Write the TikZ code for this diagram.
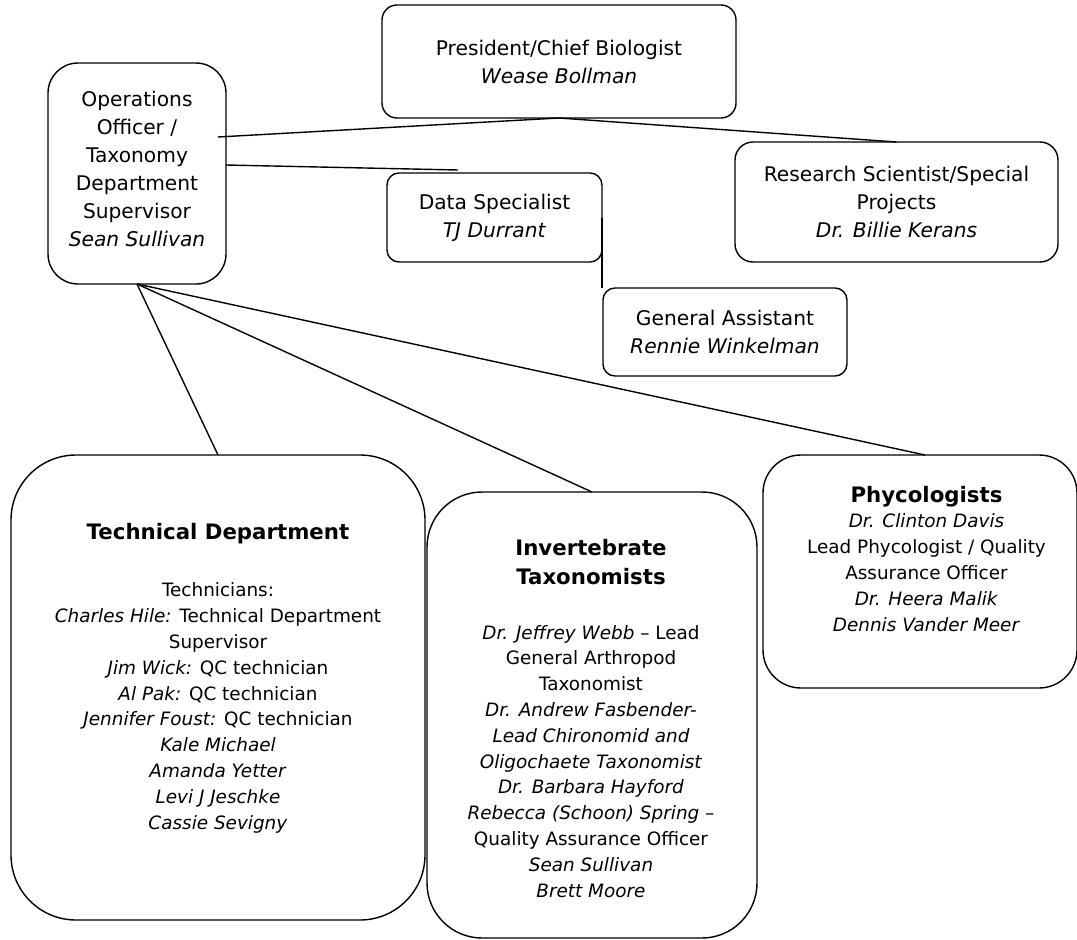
\documentclass[tikz,border=0pt]{standalone}
\usepackage{fontspec}
\setmainfont{DejaVu Sans}
\newcommand{\depthead}[1]{{\fontsize{21.3}{26}\selectfont\bfseries #1}}
\begin{document}
\begin{tikzpicture}[x=1pt,y=-1pt]
\tikzstyle{every node}+=[inner sep=0pt,outer sep=0pt]
\tikzstyle{rolebox}=[draw=black,line width=1.4pt,align=center,font=\fontsize{20.2}{28}\selectfont]
\tikzstyle{deptbox}=[draw=black,line width=1.4pt]
\tikzstyle{depttext}=[anchor=north,align=center,font=\fontsize{18.4}{25.8}\selectfont]
\tikzstyle{link}=[black,line width=1.4pt]
\clip (0,0) rectangle (1077,940);
\node [rolebox,rounded corners=30pt,minimum width=178pt,minimum height=221pt] (ops) at (137,173.5) {Operations\\Officer /\\Taxonomy\\Department\\Supervisor\\\textit{Sean Sullivan}\\[-18pt]};
\node [rolebox,rounded corners=15pt,minimum width=354pt,minimum height=113pt] (pres) at (559,61.5) {President/Chief Biologist\\\textit{Wease Bollman}};
\node [rolebox,rounded corners=12pt,minimum width=215pt,minimum height=89pt] (data) at (494.5,217.5) {Data Specialist\\\textit{TJ Durrant}};
\node [rolebox,rounded corners=18pt,minimum width=323pt,minimum height=120pt] (res) at (896.5,202) {Research Scientist/Special\\Projects\\\textit{Dr. Billie Kerans}};
\node [rolebox,rounded corners=12pt,minimum width=244pt,minimum height=88pt] (ga) at (725,332) {General Assistant\\\textit{Rennie Winkelman}};
\node [deptbox,rounded corners=65pt,minimum width=414pt,minimum height=465pt] (tech) at (218,687.5) {};
\node [deptbox,rounded corners=55pt,minimum width=330pt,minimum height=446pt] (inv) at (592,715) {};
\node [deptbox,rounded corners=38pt,minimum width=314pt,minimum height=233pt] (phy) at (920,571.5) {};
\node [depttext] (techtxt) at (218,523.8) {\depthead{Technical Department}\\[31.2pt]
Technicians:\\
\textit{Charles Hile:} Technical Department\\
Supervisor\\
\textit{Jim Wick:} QC technician\\
\textit{Al Pak:} QC technician\\
\textit{Jennifer Foust:} QC technician\\
\textit{Kale Michael}\\
\textit{Amanda Yetter}\\
\textit{Levi J Jeschke}\\
\textit{Cassie Sevigny}};
\node [depttext] (invtxt) at (591,539) {\depthead{Invertebrate}\\[3.2pt]
\depthead{Taxonomists}\\[29.2pt]
\textit{Dr. Jeffrey Webb} -- Lead\\
General Arthropod\\
Taxonomist\\
\textit{Dr. Andrew Fasbender-}\\
\textit{Lead Chironomid and}\\
\textit{Oligochaete Taxonomist}\\
\textit{Dr. Barbara Hayford}\\
\textit{Rebecca (Schoon) Spring} --\\
Quality Assurance Officer\\
\textit{Sean Sullivan}\\
\textit{Brett Moore}};
\node [depttext] (phytxt) at (926.5,486) {\depthead{Phycologists}\\
\textit{Dr. Clinton Davis}\\
Lead Phycologist / Quality\\
Assurance Officer\\
\textit{Dr. Heera Malik}\\
\textit{Dennis Vander Meer}};
\coordinate (opsA) at (218,137);
\coordinate (opsB) at (226,165);
\coordinate (dataend) at (458,170);
\draw [link] (opsA) -- (pres.south) -- (res.north);
\draw [link] (opsB) -- (dataend);
\draw [link] (data.east) -- (data.east |- ga.north);
\draw [link] (ops.south) -- (tech.north);
\draw [link] (ops.south) -- (inv.north);
\draw [link] (ops.south) -- ([xshift=5pt]phy.north);
\end{tikzpicture}
\end{document}
